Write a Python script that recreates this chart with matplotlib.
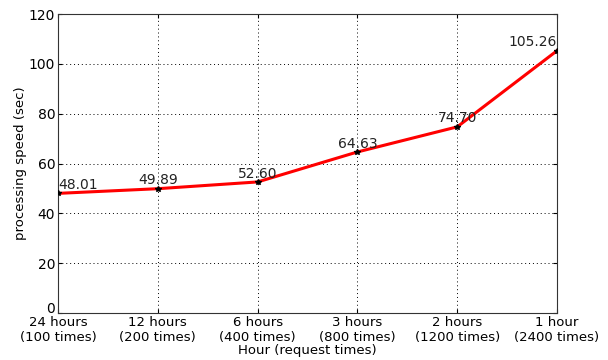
import matplotlib
matplotlib.use("Agg")
import matplotlib.pyplot as plt
from matplotlib.transforms import ScaledTranslation

categories = ["24 hours\n(100 times)", "12 hours\n(200 times)", "6 hours\n(400 times)",
              "3 hours\n(800 times)", "2 hours\n(1200 times)", "1 hour\n(2400 times)"]
speed = [48.01, 49.89, 52.60, 64.63, 74.70, 105.26]
yticks = [0, 20, 40, 60, 80, 100, 120]

fig = plt.figure(figsize=(6.08, 3.6), dpi=100)
ax = fig.add_axes([58 / 608, 47 / 360, 499 / 608, 299 / 360])

x = list(range(len(speed)))
ax.plot(x, speed, color="red", linewidth=2.2, zorder=3)
ax.plot(x, speed, linestyle="none", marker="*", color="black", markersize=4, zorder=4)

for i, v in enumerate(speed):
    ha = "left" if i == 0 else ("right" if i == len(speed) - 1 else "center")
    ax.annotate(f"{v:.2f}", (i, v), xytext=(0, 1), textcoords="offset points",
                ha=ha, va="bottom", fontsize=10, color="#222222")

ax.set_xlim(0, len(speed) - 1)
ax.set_ylim(0, 120)
ax.set_xticks(x)
ax.set_xticklabels(categories, fontsize=9.5, linespacing=1.2)
ax.set_yticks(yticks)
ax.set_yticklabels([str(t) for t in yticks], fontsize=10)
ax.tick_params(direction="in", top=True, right=True, length=3, pad=2)
ax.tick_params(axis="x", pad=2)
ax.grid(True, linestyle=(0, (1, 3)), color="black", linewidth=0.7)
for s in ax.spines.values():
    s.set_color("#333333")

# lift the "0" label above the x axis line so it clears the first category label
zero_label = ax.get_yticklabels()[0]
zero_label.set_transform(zero_label.get_transform() + ScaledTranslation(0, 4 / 72, fig.dpi_scale_trans))

ax.set_xlabel("Hour (request times)", fontsize=9.5, labelpad=0)
ax.set_ylabel("processing speed (sec)", fontsize=9.5, labelpad=1)

fig.savefig("out.png", dpi=100)
